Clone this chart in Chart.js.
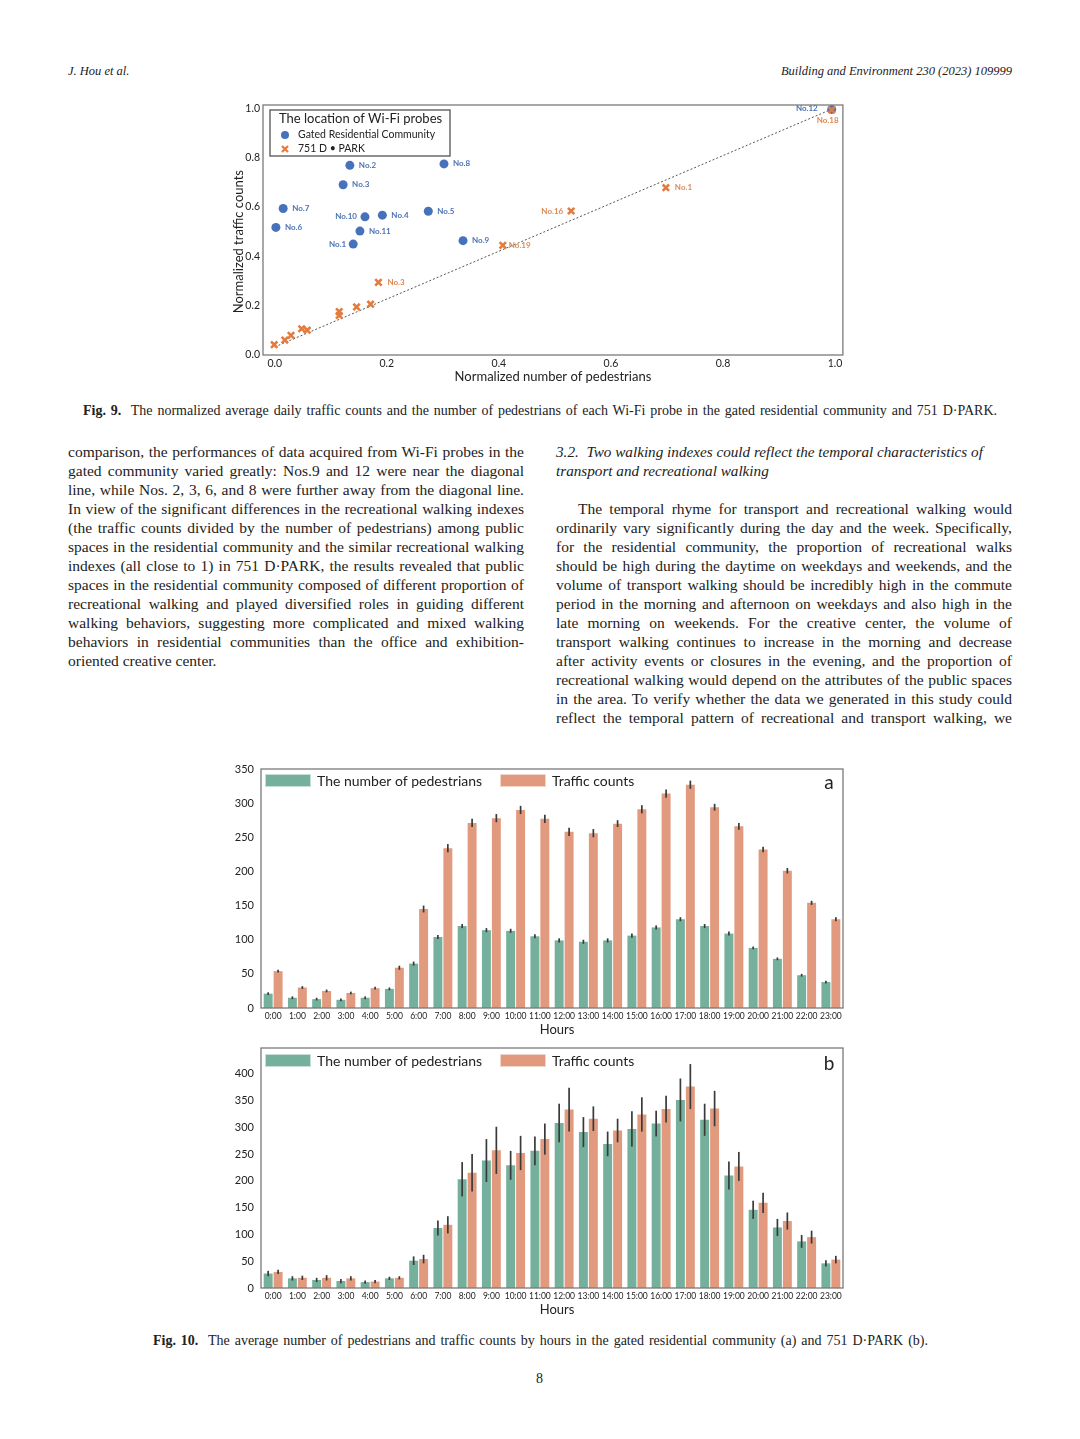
<!DOCTYPE html>
<html>
<head>
<meta charset="utf-8">
<script src="https://cdn.jsdelivr.net/npm/chart.js@4.4.0/dist/chart.umd.min.js"></script>
<style>
  body { margin: 0; width: 1080px; height: 1439px; background: #fff; position: relative; overflow: hidden;
         font-family: "Liberation Serif", serif; color: #222; }
  .abs { position: absolute; white-space: nowrap; }
  .hdr { font-style: italic; font-size: 12.5px; line-height: 14px; }
  .cap { font-size: 14px; line-height: 16px; }
  .line { position: absolute; height: 19px; line-height: 19px; font-size: 15.5px; white-space: nowrap; }
  canvas { position: absolute; }
</style>
</head>
<body>

<span class="abs hdr" style="left:68px; top:64px;">J. Hou et al.</span>
<span class="abs hdr" id="journal" style="top:64px;">Building and Environment 230 (2023) 109999</span>

<canvas id="scatterChart" width="630" height="296" style="left:220px; top:96px;"></canvas>

<span class="abs cap" data-w="914" style="left:83px; top:403px;"><b>Fig. 9.</b>&nbsp; The normalized average daily traffic counts and the number of pedestrians of each Wi-Fi probe in the gated residential community and 751 D·PARK.</span>

<div id="textArea"></div>

<canvas id="barA" width="630" height="285" style="left:220px; top:760px;"></canvas>
<canvas id="barB" width="630" height="285" style="left:220px; top:1040px;"></canvas>

<span class="abs cap" data-w="775" style="left:153px; top:1333px;"><b>Fig. 10.</b>&nbsp; The average number of pedestrians and traffic counts by hours in the gated residential community (a) and 751 D·PARK (b).</span>
<span class="abs cap" style="left:536px; top:1371px;">8</span>

<script>
// ---- Fig. 9 data (normalized values)
const gatedNames = ['No.1', 'No.2', 'No.3', 'No.4', 'No.5', 'No.6', 'No.7', 'No.8', 'No.9', 'No.10', 'No.11', 'No.12'];
const gatedX = [0.140, 0.134, 0.122, 0.192, 0.274, 0.002, 0.015, 0.302, 0.336, 0.161, 0.152, 0.994];
const gatedY = [0.449, 0.770, 0.691, 0.567, 0.583, 0.517, 0.594, 0.776, 0.463, 0.560, 0.502, 0.998];

const parkNames = ['No.1', 'No.3', 'No.16', 'No.18', 'No.19', '', '', '', '', '', '', '', '', ''];
const parkX = [0.698, 0.185, 0.529, 0.994, 0.407, -0.001, 0.018, 0.029, 0.048, 0.058, 0.115, 0.115, 0.146, 0.171];
const parkY = [0.679, 0.293, 0.584, 0.996, 0.444, 0.039, 0.058, 0.077, 0.104, 0.098, 0.174, 0.158, 0.193, 0.204];

const diagX = [0, 0.99];
const diagY = [0.03, 0.995];
const normTicks = [0, 0.2, 0.4, 0.6, 0.8, 1.0];

// ---- Fig. 10 data
const hours = ['0:00', '1:00', '2:00', '3:00', '4:00', '5:00', '6:00', '7:00', '8:00', '9:00', '10:00', '11:00',
               '12:00', '13:00', '14:00', '15:00', '16:00', '17:00', '18:00', '19:00', '20:00', '21:00', '22:00', '23:00'];

const pedA = [21, 15, 13, 12, 15, 28, 65, 104, 120, 114, 113, 105, 99, 97, 99, 106, 118, 130, 120, 109, 88, 72, 48, 38];
const pedAErr = [2, 2, 2, 2, 2, 2, 3, 3, 3, 3, 3, 3, 3, 3, 3, 3, 3, 3, 3, 3, 2, 2, 2, 2];
const trafA = [54, 30, 25, 22, 29, 59, 145, 234, 271, 278, 290, 277, 258, 256, 270, 291, 314, 327, 294, 266, 232, 201, 154, 130];
const trafAErr = [2, 2, 2, 2, 2, 3, 5, 6, 6, 6, 6, 6, 6, 6, 5, 6, 6, 6, 5, 5, 4, 4, 3, 3];

const pedB = [27, 18, 15, 13, 11, 18, 51, 112, 203, 238, 229, 256, 308, 291, 269, 297, 307, 351, 314, 210, 146, 113, 87, 46];
const pedBErr = [5, 4, 4, 4, 3, 3, 8, 14, 32, 40, 27, 27, 36, 28, 23, 33, 24, 40, 30, 26, 17, 16, 12, 6];
const trafB = [30, 19, 19, 18, 12, 19, 54, 118, 215, 257, 252, 278, 333, 316, 294, 324, 334, 376, 335, 227, 159, 125, 95, 53];
const trafBErr = [4, 4, 5, 4, 3, 3, 8, 16, 35, 44, 32, 29, 41, 23, 22, 32, 25, 42, 33, 27, 19, 16, 12, 7];

const ticksA = [0, 50, 100, 150, 200, 250, 300, 350];
const ticksB = [0, 50, 100, 150, 200, 250, 300, 350, 400];

const GREEN = '#74b09c';
const SALMON = '#e29a7e';
const BLUE = '#4672bb';
const ORANGE = '#e27d3f';

// ---- body text
const leftLines = [
  'comparison, the performances of data acquired from Wi-Fi probes in the',
  'gated community varied greatly: Nos.9 and 12 were near the diagonal',
  'line, while Nos. 2, 3, 6, and 8 were further away from the diagonal line.',
  'In view of the significant differences in the recreational walking indexes',
  '(the traffic counts divided by the number of pedestrians) among public',
  'spaces in the residential community and the similar recreational walking',
  'indexes (all close to 1) in 751 D·PARK, the results revealed that public',
  'spaces in the residential community composed of different proportion of',
  'recreational walking and played diversified roles in guiding different',
  'walking behaviors, suggesting more complicated and mixed walking',
  'behaviors in residential communities than the office and exhibition-',
  'oriented creative center.'
];
const rightLines = [
  'The temporal rhyme for transport and recreational walking would',
  'ordinarily vary significantly during the day and the week. Specifically,',
  'for the residential community, the proportion of recreational walks',
  'should be high during the daytime on weekdays and weekends, and the',
  'volume of transport walking should be incredibly high in the commute',
  'period in the morning and afternoon on weekdays and also high in the',
  'late morning on weekends. For the creative center, the volume of',
  'transport walking continues to increase in the morning and decrease',
  'after activity events or closures in the evening, and the proportion of',
  'recreational walking would depend on the attributes of the public spaces',
  'in the area. To verify whether the data we generated in this study could',
  'reflect the temporal pattern of recreational and transport walking, we'
];

const area = document.getElementById('textArea');
function addLine(text, left, top, width, opts) {
  const s = document.createElement('span');
  s.className = 'line';
  s.textContent = text;
  s.style.left = left + 'px';
  s.style.top = top + 'px';
  if (opts && opts.italic) { s.style.fontStyle = 'italic'; s.style.fontSize = '15.2px'; }
  if (width) s.dataset.w = width;
  area.appendChild(s);
}
leftLines.forEach((t, i) => addLine(t, 68, 442 + i * 19, i < leftLines.length - 1 ? 456 : 0));
addLine('3.2.\u00a0\u00a0Two walking indexes could reflect the temporal characteristics of', 556, 442, 0, {italic: true});
addLine('transport and recreational walking', 556, 461, 0, {italic: true});
rightLines.forEach((t, i) => addLine(t, i === 0 ? 578 : 556, 499 + i * 19, i === 0 ? 434 : 456));

// stretch justified lines to their column width
document.querySelectorAll('[data-w]').forEach(el => {
  const target = +el.dataset.w;
  const w = el.getBoundingClientRect().width;
  const n = (el.textContent.match(/[ \u00a0]/g) || []).length;
  if (n) el.style.wordSpacing = ((target - w) / n) + 'px';
});
const jr = document.getElementById('journal');
jr.style.left = (1012 - jr.getBoundingClientRect().width) + 'px';

// ---- chart plugins
Chart.defaults.font.family = 'Lato';
Chart.defaults.color = '#222';

// let layout.padding alone decide where the plot box sits
function noTickOverhang(s) {
  s.paddingTop = 0; s.paddingBottom = 0; s.paddingLeft = 0; s.paddingRight = 0;
}

const framePlugin = {
  id: 'frame',
  afterDraw(chart) {
    const {ctx, chartArea: a} = chart;
    ctx.save();
    ctx.strokeStyle = '#7a7a7a';
    ctx.lineWidth = 1.3;
    ctx.strokeRect(a.left, a.top, a.right - a.left, a.bottom - a.top);
    ctx.restore();
  }
};

const errorBars = {
  id: 'errorBars',
  afterDatasetsDraw(chart) {
    const {ctx} = chart;
    const y = chart.scales.y;
    ctx.save();
    ctx.strokeStyle = '#3a3a3a';
    ctx.lineWidth = 1.7;
    chart.data.datasets.forEach((ds, i) => {
      chart.getDatasetMeta(i).data.forEach((bar, j) => {
        ctx.beginPath();
        ctx.moveTo(bar.x, y.getPixelForValue(ds.data[j] - ds.errors[j]));
        ctx.lineTo(bar.x, y.getPixelForValue(ds.data[j] + ds.errors[j]));
        ctx.stroke();
      });
    });
    ctx.restore();
  }
};

const barLegend = {
  id: 'barLegend',
  afterDraw(chart, args, opts) {
    const {ctx, chartArea: a} = chart;
    const offsets = [4, 239];
    ctx.save();
    chart.data.datasets.forEach((d, i) => {
      const x = a.left + offsets[i], y = a.top + opts.dy;
      ctx.fillStyle = d.backgroundColor;
      ctx.fillRect(x, y, 46, 13);
      ctx.strokeStyle = 'rgba(255,255,255,0.6)';
      ctx.strokeRect(x + 0.5, y + 0.5, 45, 12);
      ctx.fillStyle = '#222';
      ctx.font = '14px Lato';
      ctx.textBaseline = 'middle';
      ctx.textAlign = 'left';
      ctx.fillText(d.label, x + 52, y + 7);
    });
    ctx.font = '19px Lato';
    ctx.textAlign = 'center';
    ctx.fillText(opts.tag, a.right - 14, a.top + opts.tagDy);
    ctx.restore();
  }
};

// where each probe name sits next to its marker
const labelPlace = {
  'g:No.10': {dx: -8, dy: 0, align: 'right'},
  'g:No.1': {dx: -7, dy: 0, align: 'right'},
  'g:No.12': {dx: -14, dy: -1, align: 'right'},
  'p:No.16': {dx: -8, dy: 0, align: 'right'},
  'p:No.18': {dx: -4, dy: 11, align: 'center'},
  'p:No.19': {dx: 6, dy: 0, align: 'left'}
};

const pointNames = {
  id: 'pointNames',
  afterDatasetsDraw(chart) {
    const {ctx} = chart;
    ctx.save();
    ctx.font = 'bold 8px Lato';
    ctx.textBaseline = 'middle';
    chart.data.datasets.forEach((ds, i) => {
      if (!ds.names) return;
      chart.getDatasetMeta(i).data.forEach((pt, j) => {
        const name = ds.names[j];
        if (!name) return;
        const p = labelPlace[ds.group + ':' + name] || {dx: 9, dy: 0, align: 'left'};
        ctx.fillStyle = ds.labelColor;
        ctx.textAlign = p.align;
        ctx.fillText(name, pt.x + p.dx, pt.y + p.dy);
      });
    });
    ctx.restore();
  }
};

const scatterLegend = {
  id: 'scatterLegend',
  afterDraw(chart) {
    const {ctx, chartArea: a} = chart;
    const x0 = a.left + 7, y0 = a.top + 5;
    ctx.save();
    ctx.fillStyle = '#fff';
    ctx.fillRect(x0, y0, 180, 46);
    ctx.strokeStyle = '#6a6a6a';
    ctx.lineWidth = 1.5;
    ctx.strokeRect(x0, y0, 180, 46);
    ctx.fillStyle = '#222';
    ctx.textBaseline = 'middle';
    ctx.font = '13px Lato';
    ctx.fillText('The location of Wi-Fi probes', x0 + 9, y0 + 9);
    ctx.font = '10.5px Lato';
    ctx.fillText('Gated Residential Community', x0 + 28, y0 + 25);
    ctx.fillText('751 D \u2022 PARK', x0 + 28, y0 + 39);
    ctx.fillStyle = BLUE;
    ctx.beginPath();
    ctx.arc(x0 + 15, y0 + 25, 4, 0, Math.PI * 2);
    ctx.fill();
    ctx.strokeStyle = ORANGE;
    ctx.lineWidth = 2.3;
    ctx.beginPath();
    ctx.moveTo(x0 + 12, y0 + 36); ctx.lineTo(x0 + 18, y0 + 42);
    ctx.moveTo(x0 + 18, y0 + 36); ctx.lineTo(x0 + 12, y0 + 42);
    ctx.stroke();
    ctx.restore();
  }
};

// ---- Fig. 9 scatter
new Chart(document.getElementById('scatterChart'), {
  type: 'scatter',
  data: {
    datasets: [
      {
        label: '751 D \u2022 PARK',
        group: 'p',
        names: parkNames,
        labelColor: '#df874f',
        data: parkX.map((x, i) => ({x: x, y: parkY[i]})),
        pointStyle: 'crossRot',
        pointRadius: 4.5,
        borderColor: ORANGE,
        borderWidth: 2.6,
        order: 0
      },
      {
        label: 'Gated Residential Community',
        group: 'g',
        names: gatedNames,
        labelColor: '#4c72b4',
        data: gatedX.map((x, i) => ({x: x, y: gatedY[i]})),
        pointStyle: 'circle',
        pointRadius: 4.5,
        backgroundColor: BLUE,
        borderWidth: 0,
        order: 1
      },
      {
        label: 'diagonal',
        data: diagX.map((x, i) => ({x: x, y: diagY[i]})),
        showLine: true,
        borderColor: '#555',
        borderWidth: 1,
        borderDash: [2, 2],
        pointRadius: 0,
        order: 2
      }
    ]
  },
  options: {
    responsive: false,
    animation: false,
    devicePixelRatio: 1,
    layout: {padding: {top: 9, right: 7, bottom: 0, left: 0}},
    plugins: {legend: {display: false}, tooltip: {enabled: false}},
    scales: {
      x: {
        min: -0.021, max: 1.014,
        grid: {display: false, drawTicks: false},
        border: {display: false},
        ticks: {padding: 2, font: {size: 10.5}, callback: v => v.toFixed(1)},
        title: {display: true, text: 'Normalized number of pedestrians', font: {size: 13}, padding: {top: 0, bottom: 7}},
        afterBuildTicks: s => { s.ticks = normTicks.map(v => ({value: v})); },
        afterFit: s => { s.height = 37; noTickOverhang(s); }
      },
      y: {
        min: -0.003, max: 1.016,
        grid: {display: false, drawTicks: false},
        border: {display: false},
        ticks: {padding: 3, font: {size: 10.5}, callback: v => v.toFixed(1)},
        // trailing spaces nudge the rotated title toward the lower part of the axis, as in the original
        title: {display: true, text: 'Normalized traffic counts\u00a0\u00a0\u00a0\u00a0\u00a0\u00a0\u00a0', font: {size: 13}, padding: {top: 11, bottom: 0}},
        afterBuildTicks: s => { s.ticks = normTicks.map(v => ({value: v})); },
        afterFit: s => { s.width = 43; noTickOverhang(s); }
      }
    }
  },
  plugins: [framePlugin, pointNames, scatterLegend]
});

// ---- Fig. 10 bar charts
function hourChart(id, ped, pedErr, traf, trafErr, yMax, yTicks, tag, padTop, legendDy, tagDy) {
  return new Chart(document.getElementById(id), {
    type: 'bar',
    data: {
      labels: hours,
      datasets: [
        {label: 'The number of pedestrians', data: ped, errors: pedErr, backgroundColor: GREEN, borderWidth: 0},
        {label: 'Traffic counts', data: traf, errors: trafErr, backgroundColor: SALMON, borderWidth: 0}
      ]
    },
    options: {
      responsive: false,
      animation: false,
      devicePixelRatio: 1,
      categoryPercentage: 0.82,
      barPercentage: 0.9,
      layout: {padding: {top: padTop, right: 7, bottom: 0, left: 0}},
      plugins: {
        legend: {display: false},
        tooltip: {enabled: false},
        barLegend: {tag: tag, dy: legendDy, tagDy: tagDy}
      },
      scales: {
        x: {
          grid: {display: false, drawTicks: false},
          border: {display: false},
          ticks: {padding: 3, font: {size: 8.5}, maxRotation: 0, autoSkip: false},
          title: {display: true, text: '\u00a0\u00a0\u00a0Hours', font: {size: 13}, padding: {top: 0, bottom: 7}},
          afterFit: s => { s.height = 37; noTickOverhang(s); }
        },
        y: {
          min: 0, max: yMax,
          grid: {display: false, drawTicks: false},
          border: {display: false},
          ticks: {padding: 7, font: {size: 11}},
          afterBuildTicks: s => { s.ticks = yTicks.map(v => ({value: v})); },
          afterFit: s => { s.width = 41; noTickOverhang(s); }
        }
      }
    },
    plugins: [framePlugin, errorBars, barLegend]
  });
}

hourChart('barA', pedA, pedAErr, trafA, trafAErr, 350, ticksA, 'a', 9, 5, 14);
hourChart('barB', pedB, pedBErr, trafB, trafBErr, 448, ticksB, 'b', 8, 6, 16);
</script>
</body>
</html>
